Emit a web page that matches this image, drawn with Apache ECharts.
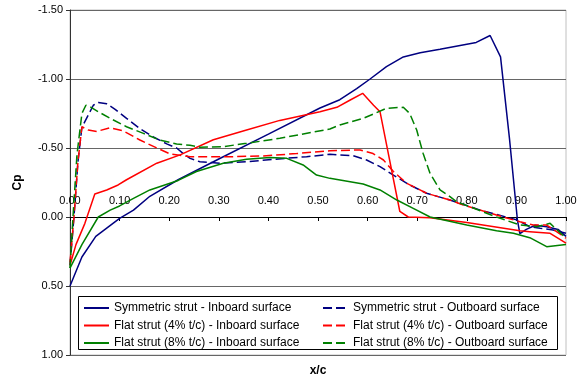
<!DOCTYPE html>
<html>
<head>
<meta charset="utf-8">
<script src="https://cdn.jsdelivr.net/npm/echarts@6/dist/echarts.min.js"></script>
<style>
  html, body { margin: 0; padding: 0; background: #fff; }
  #chart { width: 580px; height: 378px; }
</style>
</head>
<body>
<div id="chart"></div>
<script>
// Pressure coefficient distributions along the chord, [x/c, Cp]
const symInboard = [[0,0.50],[0.024,0.29],[0.052,0.14],[0.10,0.01],[0.128,-0.05],[0.161,-0.15],[0.218,-0.27],[0.30,-0.42],[0.40,-0.60],[0.504,-0.79],[0.544,-0.85],[0.578,-0.93],[0.605,-1.00],[0.638,-1.09],[0.672,-1.16],[0.706,-1.19],[0.746,-1.215],[0.819,-1.265],[0.847,-1.315],[0.868,-1.16],[0.886,-0.57],[0.902,0.02],[0.907,0.12],[0.92,0.09],[0.938,0.06],[0.961,0.07],[0.984,0.09],[1.0,0.14]];
const symOutboard = [[0,0.35],[0.008,0.0],[0.016,-0.40],[0.024,-0.65],[0.047,-0.81],[0.057,-0.83],[0.074,-0.82],[0.091,-0.78],[0.114,-0.715],[0.141,-0.64],[0.168,-0.58],[0.195,-0.53],[0.215,-0.50],[0.228,-0.46],[0.242,-0.425],[0.262,-0.40],[0.302,-0.39],[0.356,-0.40],[0.41,-0.418],[0.477,-0.437],[0.524,-0.454],[0.571,-0.444],[0.598,-0.413],[0.625,-0.365],[0.652,-0.304],[0.685,-0.232],[0.719,-0.172],[0.766,-0.123],[0.827,-0.05],[0.90,0.02],[0.927,0.07],[0.948,0.082],[0.974,0.094],[1.0,0.118]];
const flat4Inboard = [[0,0.35],[0.012,0.20],[0.03,0.046],[0.05,-0.167],[0.074,-0.196],[0.097,-0.232],[0.114,-0.27],[0.175,-0.39],[0.222,-0.45],[0.289,-0.56],[0.356,-0.63],[0.423,-0.70],[0.504,-0.763],[0.538,-0.795],[0.565,-0.848],[0.59,-0.896],[0.612,-0.81],[0.625,-0.763],[0.665,-0.04],[0.682,0.0],[0.726,0.005],[0.80,0.04],[0.907,0.10],[0.927,0.106],[0.968,0.118],[1.0,0.19]];
const flat4Outboard = [[0,0.33],[0.008,0.0],[0.016,-0.40],[0.024,-0.654],[0.037,-0.63],[0.054,-0.62],[0.081,-0.647],[0.107,-0.625],[0.141,-0.558],[0.175,-0.50],[0.202,-0.457],[0.242,-0.437],[0.323,-0.437],[0.39,-0.442],[0.457,-0.46],[0.524,-0.48],[0.585,-0.486],[0.611,-0.46],[0.632,-0.413],[0.652,-0.33],[0.679,-0.244],[0.719,-0.172],[0.766,-0.123],[0.793,-0.087],[0.86,-0.014],[0.907,0.034],[0.934,0.058],[0.961,0.058],[0.981,0.106],[1.0,0.154]];
const flat8Inboard = [[0,0.37],[0.024,0.20],[0.057,0.0],[0.081,-0.05],[0.10,-0.08],[0.128,-0.135],[0.161,-0.196],[0.218,-0.265],[0.255,-0.33],[0.309,-0.39],[0.356,-0.418],[0.403,-0.432],[0.437,-0.425],[0.47,-0.377],[0.497,-0.304],[0.524,-0.28],[0.591,-0.239],[0.625,-0.196],[0.659,-0.123],[0.692,-0.063],[0.726,0.0],[0.80,0.058],[0.86,0.10],[0.894,0.118],[0.927,0.15],[0.961,0.215],[1.0,0.20]];
const flat8Outboard = [[0,0.37],[0.006,0.0],[0.014,-0.45],[0.024,-0.75],[0.032,-0.81],[0.04,-0.80],[0.057,-0.763],[0.081,-0.715],[0.114,-0.654],[0.148,-0.606],[0.181,-0.558],[0.215,-0.529],[0.242,-0.52],[0.262,-0.505],[0.309,-0.51],[0.356,-0.534],[0.423,-0.57],[0.524,-0.638],[0.544,-0.667],[0.591,-0.715],[0.618,-0.756],[0.638,-0.788],[0.672,-0.795],[0.685,-0.75],[0.699,-0.63],[0.712,-0.46],[0.726,-0.316],[0.746,-0.196],[0.766,-0.147],[0.78,-0.11],[0.86,0.0],[0.907,0.058],[0.941,0.07],[0.968,0.046],[1.0,0.154]];

const seriesNames = [
  'Symmetric strut - Inboard surface',
  'Symmetric strut - Outboard surface',
  'Flat strut (4% t/c) - Inboard surface',
  'Flat strut (4% t/c) - Outboard surface',
  'Flat strut (8% t/c) - Inboard surface',
  'Flat strut (8% t/c) - Outboard surface'
];
const seriesData = [symInboard, symOutboard, flat4Inboard, flat4Outboard, flat8Inboard, flat8Outboard];
const seriesColors = ['#000080', '#000080', '#ff0000', '#ff0000', '#008000', '#008000'];
const seriesDashed = [false, true, false, true, false, true];

const FONT = 'Liberation Sans, Arial, sans-serif';

// plot area geometry
const GRID_TOP = 10, GRID_BOTTOM = 23, CHART_H = 378;
const Y_MIN = -1.5, Y_MAX = 1.0;
const plotH = CHART_H - GRID_TOP - GRID_BOTTOM;
// shift the x axis up from the plot bottom to the Cp = 0 line
const zeroShift = plotH * (Y_MAX - 0) / (Y_MAX - Y_MIN);

const chart = echarts.init(document.getElementById('chart'), null, { renderer: 'canvas' });

const legendCommon = {
  orient: 'vertical',
  padding: 0,
  itemWidth: 25, itemHeight: 10, itemGap: 5.5,
  itemStyle: { opacity: 0 },
  textStyle: { fontFamily: FONT, fontSize: 12, color: '#000' },
  z: 20
};

chart.setOption({
  animation: false,
  backgroundColor: '#ffffff',
  grid: {
    left: 70, right: 14, top: GRID_TOP, bottom: GRID_BOTTOM,
    containLabel: false,
    outerBoundsMode: 'none',
    show: true,
    borderColor: '#c0c0c0',
    borderWidth: 1
  },
  xAxis: {
    type: 'value',
    position: 'bottom',
    offset: -zeroShift,
    min: 0, max: 1, interval: 0.1,
    name: 'x/c',
    nameLocation: 'middle',
    nameGap: 148,
    nameTextStyle: { fontFamily: FONT, fontSize: 12, fontWeight: 'bold', color: '#000' },
    axisLine: { onZero: false, lineStyle: { color: '#000', width: 1 } },
    axisTick: { show: true, inside: false, length: 4, lineStyle: { color: '#000' } },
    axisLabel: {
      inside: true, margin: 11,
      fontFamily: FONT, fontSize: 11, color: '#000',
      formatter: v => v.toFixed(2)
    },
    splitLine: { show: false }
  },
  yAxis: {
    type: 'value',
    inverse: true,
    min: Y_MIN, max: Y_MAX, interval: 0.5,
    name: 'Cp',
    nameLocation: 'middle',
    nameGap: 46,
    nameTextStyle: { fontFamily: FONT, fontSize: 12, fontWeight: 'bold', color: '#000' },
    axisLine: { show: true, lineStyle: { color: '#333', width: 1 } },
    axisTick: { show: true, inside: false, length: 4, lineStyle: { color: '#333' } },
    axisLabel: {
      margin: 7,
      fontFamily: FONT, fontSize: 11, color: '#000',
      formatter: v => v.toFixed(2)
    },
    splitLine: { show: true, lineStyle: { color: '#666', width: 1 } }
  },
  legend: [
    Object.assign({}, legendCommon, {
      data: [seriesNames[0], seriesNames[2], seriesNames[4]],
      left: 83, top: 302
    }),
    Object.assign({}, legendCommon, {
      data: [seriesNames[1], seriesNames[3], seriesNames[5]],
      left: 322, top: 302
    })
  ],
  graphic: [
    {
      type: 'rect',
      z: 10,
      shape: { x: 78.5, y: 296.5, width: 479, height: 53 },
      style: { fill: '#fff', stroke: '#000', lineWidth: 1 }
    }
  ],
  series: seriesData.map((d, i) => ({
    name: seriesNames[i],
    type: 'line',
    data: d,
    symbol: 'none',
    smooth: false,
    clip: true,
    color: seriesColors[i],
    lineStyle: {
      color: seriesColors[i],
      width: 1.5,
      type: seriesDashed[i] ? [9, 4] : 'solid'
    },
    z: 3
  }))
});
</script>
</body>
</html>
